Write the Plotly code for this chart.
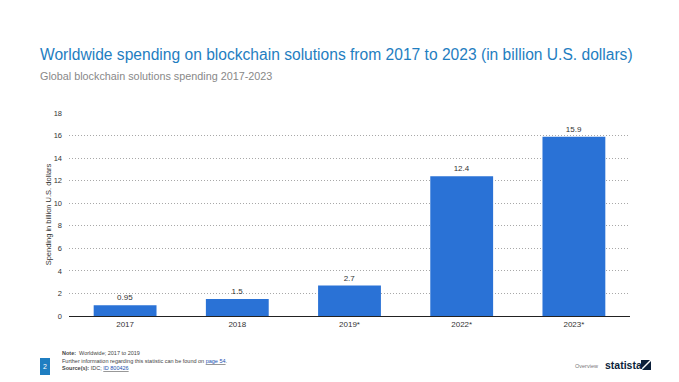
import plotly.graph_objects as go

categories = ["2017", "2018", "2019*", "2022*", "2023*"]
values = [0.95, 1.5, 2.7, 12.4, 15.9]
value_labels = ["0.95", "1.5", "2.7", "12.4", "15.9"]
y_ticks = [0, 2, 4, 6, 8, 10, 12, 14, 16, 18]

# page renders with an 8px body margin; compensate
OFF = 8
W, H = 679 - OFF, 382 - OFF
l, r, t, b = 69 - OFF, 49, 113 - OFF, 66
pw, ph = W - l - r, H - t - b


def px(x):
    return (x - OFF - l) / pw


def py(y):
    return (H - b - (y - OFF)) / ph


fig = go.Figure()
fig.add_trace(go.Bar(
    x=categories, y=values,
    marker=dict(color="#2a72d6", line=dict(width=0)),
    text=value_labels, textposition="outside",
    textfont=dict(size=8, color="#333333"),
    cliponaxis=False,
))

fig.update_layout(
    width=W, height=H,
    margin=dict(l=l, r=r, t=t, b=b, pad=0),
    paper_bgcolor="white", plot_bgcolor="white",
    bargap=0.44,
    showlegend=False,
    font=dict(family="Arial, Liberation Sans, sans-serif", color="#333333"),
)
fig.update_xaxes(
    showgrid=False, showline=True, linecolor="#222222", linewidth=1.2,
    tickfont=dict(size=8, color="#333333"), ticks="",
)
fig.update_yaxes(
    range=[0, 18], tickvals=y_ticks, showgrid=True, gridcolor="#a8a8a8",
    griddash="1px,2px", gridwidth=1, zeroline=False, showline=False,
    tickfont=dict(size=7.5, color="#333333"), ticks="", ticklabelstandoff=6,
    title=dict(text="Spending in billion U.S. dollars", font=dict(size=7.5, color="#333333"), standoff=1),
)

anns = [
    dict(text="Worldwide spending on blockchain solutions from 2017 to 2023 (in billion U.S. dollars)",
         x=39, y=54, size=15.6, color="#1f7ec1"),
    dict(text="Global blockchain solutions spending 2017-2023", x=39, y=75.5, size=10.8, color="#888888"),
    dict(text="<b>Note:</b>  Worldwide; 2017 to 2019", x=61, y=353, size=5.5, color="#444444"),
    dict(text="Further information regarding this statistic can be found on <u><span style='color:#1a4fb0'>page 54</span></u>.",
         x=61, y=360.5, size=5.5, color="#444444"),
    dict(text="<b>Source(s):</b> IDC; <u><span style='color:#1a4fb0'>ID 800426</span></u>", x=61, y=367.5, size=5.5, color="#444444"),
    dict(text="Overview", x=574, y=366, size=5.5, color="#777777"),
    dict(text="<b>statista</b>", x=604, y=365, size=10.5, color="#0b1f3a"),
]
for a in anns:
    fig.add_annotation(text=a["text"], xref="paper", yref="paper",
                       x=px(a["x"]), y=py(a["y"]), xanchor="left", yanchor="middle",
                       showarrow=False, borderpad=0,
                       font=dict(size=a["size"], color=a["color"]))

# page number box
fig.add_shape(type="rect", xref="paper", yref="paper",
              x0=px(40), x1=px(50), y0=py(375), y1=py(358),
              fillcolor="#1f7ec1", line=dict(width=0))
fig.add_annotation(text="2", xref="paper", yref="paper", x=px(45), y=py(366.5),
                   showarrow=False, font=dict(size=7, color="white"),
                   xanchor="center", yanchor="middle")
# statista logo mark
fig.add_shape(type="rect", xref="paper", yref="paper",
              x0=px(641), x1=px(651), y0=py(370), y1=py(360),
              fillcolor="#0b1f3a", line=dict(width=0))
fig.add_shape(type="line", xref="paper", yref="paper",
              x0=px(641), y0=py(370), x1=px(651), y1=py(360),
              line=dict(color="white", width=1.5))

fig.write_html("out.html")
